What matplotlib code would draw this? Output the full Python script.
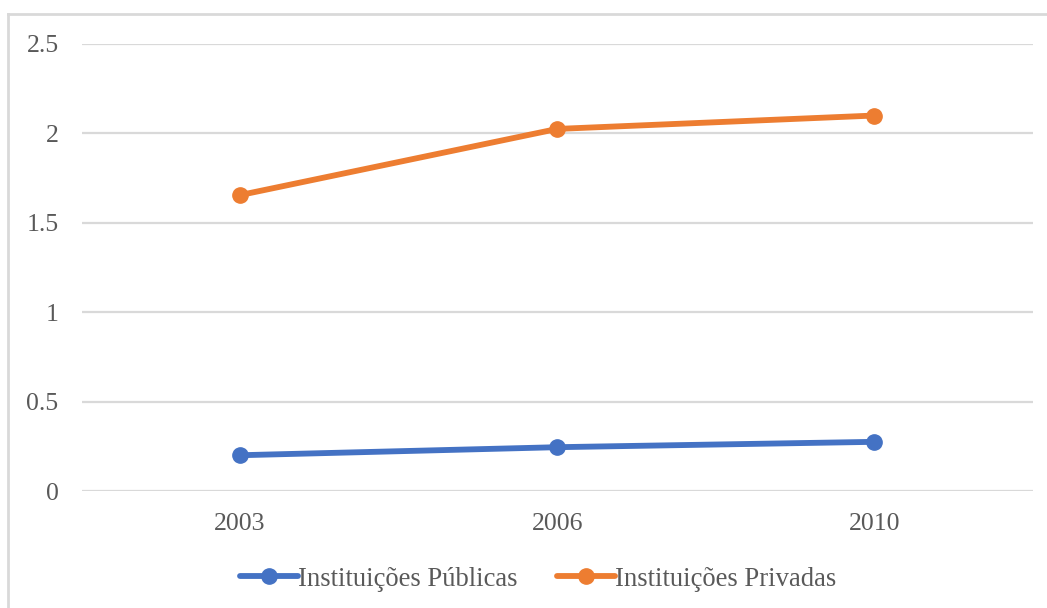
import matplotlib
matplotlib.use("Agg")
import matplotlib.pyplot as plt
from matplotlib.lines import Line2D

years = ["2003", "2006", "2010"]
publicas = [0.20, 0.245, 0.275]
privadas = [1.655, 2.025, 2.10]
yticks = [0, 0.5, 1, 1.5, 2, 2.5]
ytick_labels = ["0", "0.5", "1", "1.5", "2", "2.5"]

plt.rcParams['font.family'] = ['Liberation Serif', 'DejaVu Serif']
text_color = '#595959'
grid_color = '#d9d9d9'
fs = 18.5

W, H = 1047, 608
fig = plt.figure(figsize=(W / 100, H / 100), dpi=100)
ax = fig.add_axes([81.5 / W, 1 - 491 / H, (1033 - 81.5) / W, (491 - 44) / H])

x = range(len(years))
ax.plot(x, publicas, color='#4472C4', lw=4.2, marker='o', ms=11,
        solid_capstyle='round', label='Instituições Públicas', zorder=3)
ax.plot(x, privadas, color='#ED7D31', lw=4.2, marker='o', ms=11,
        solid_capstyle='round', label='Instituições Privadas', zorder=3)

ax.set_xlim(-0.5, len(years) - 0.5)
ax.set_ylim(0, 2.5)
ax.set_xticks(list(x))
ax.set_xticklabels(years)
ax.set_yticks(yticks)
ax.set_yticklabels(ytick_labels)
ax.tick_params(length=0, labelsize=fs, colors=text_color)
ax.tick_params(axis='x', pad=16)
ax.tick_params(axis='y', pad=16.5)

ax.yaxis.grid(True, color=grid_color, lw=1.6)
ax.set_axisbelow(True)
for s in ax.spines.values():
    s.set_visible(False)

leg = fig.legend(loc='center', bbox_to_anchor=(538 / W, 1 - 579 / H), ncol=2,
                 frameon=False, fontsize=19.2, handlelength=2.17,
                 handletextpad=0.0, columnspacing=1.5)
for t in leg.get_texts():
    t.set_color(text_color)

# chart frame (top and left edges)
fig.add_artist(Line2D([8 / W, 1.0], [1 - 14 / H, 1 - 14 / H],
                      transform=fig.transFigure, color=grid_color, lw=2))
fig.add_artist(Line2D([8 / W, 8 / W], [0, 1 - 14 / H],
                      transform=fig.transFigure, color=grid_color, lw=2))

fig.savefig("out.png", dpi=100)
